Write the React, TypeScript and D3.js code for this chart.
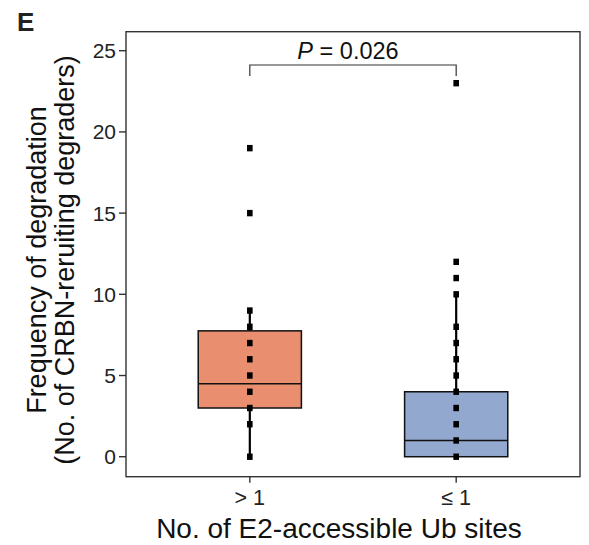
import React from "react";
import * as d3 from "d3";

const categories = ["> 1", "≤ 1"];
const fills = ["#E98F6F", "#93A8CF"];
const group1Points = [0, 2, 3, 4, 5, 6, 7, 8, 9, 15, 19];
const group2Points = [0, 1, 2, 3, 4, 5, 6, 7, 8, 10, 11, 12, 23];
const q1 = [3, 0];
const medians = [4.5, 1];
const q3 = [7.75, 4];
const whiskerLow = [0, 0];
const whiskerHigh = [9, 10];
const yTicks = [0, 5, 10, 15, 20, 25];
const pLabel = "0.026";

const W = 589;
const H = 545;
const left = 126;
const right = 580;
const top = 31.7;
const bottom = 476.7;
const font = "'Liberation Sans', Arial, sans-serif";

export default function App() {
  const x = d3.scalePoint<string>().domain(categories).range([left, right]).padding(0.6);
  const y = d3.scaleLinear().domain([-1.23, 26.17]).range([bottom, top]);
  const step = x.step();
  const boxW = step * 0.5;
  const points = [group1Points, group2Points];
  const x1 = x(categories[0])!;
  const x2 = x(categories[1])!;
  const by = 65;
  const midY = 260;
  return (
    <svg width={W} height={H} style={{ position: "absolute", left: 0, top: 0 }} fontFamily={font}>
      <rect x={0} y={0} width={W} height={H} fill="#fff" />
      <text x={17} y={31} fontSize={26} fontWeight="bold" fill="#222">E</text>
      {categories.map((c, i) => {
        const cx = x(c)!;
        return (
          <g key={c}>
            <line x1={cx} x2={cx} y1={y(whiskerLow[i])} y2={y(whiskerHigh[i])} stroke="#000" strokeWidth={2.2} />
            <rect x={cx - boxW / 2} y={y(q3[i])} width={boxW} height={y(q1[i]) - y(q3[i])} fill={fills[i]} stroke="#111" strokeWidth={1.5} />
            <line x1={cx - boxW / 2} x2={cx + boxW / 2} y1={y(medians[i])} y2={y(medians[i])} stroke="#111" strokeWidth={1.5} />
            {points[i].map((v, j) => (
              <rect key={j} x={cx - 2.8} y={y(v) - 3.2} width={5.6} height={6.4} fill="#000" />
            ))}
          </g>
        );
      })}
      <rect x={left} y={top} width={right - left} height={bottom - top} fill="none" stroke="#333" strokeWidth={1.4} />
      {yTicks.map((t) => (
        <g key={t}>
          <line x1={left - 7} x2={left} y1={y(t)} y2={y(t)} stroke="#333" strokeWidth={1.4} />
          <text x={left - 10} y={y(t)} dy="0.36em" textAnchor="end" fontSize={21} fill="#222">{t}</text>
        </g>
      ))}
      {categories.map((c) => (
        <g key={c}>
          <line x1={x(c)!} x2={x(c)!} y1={bottom} y2={bottom + 6} stroke="#333" strokeWidth={1.4} />
          <text x={x(c)!} y={505} textAnchor="middle" fontSize={21.5} fill="#222">{c}</text>
        </g>
      ))}
      <text x={339} y={538} textAnchor="middle" fontSize={28} fill="#111">No. of E2-accessible Ub sites</text>
      <text transform={`translate(46,${midY}) rotate(-90)`} textAnchor="middle" fontSize={27} fill="#111">Frequency of degradation</text>
      <text transform={`translate(74,${midY}) rotate(-90)`} textAnchor="middle" fontSize={27} fill="#111">(No. of CRBN-reruiting degraders)</text>
      <path d={`M${x1},${by + 11}V${by}H${x2}V${by + 11}`} fill="none" stroke="#333" strokeWidth={1.2} />
      <text x={(x1 + x2) / 2 - 5} y={58.5} textAnchor="middle" fontSize={23.5} fill="#111">
        <tspan fontStyle="italic">P</tspan> = {pLabel}
      </text>
    </svg>
  );
}
